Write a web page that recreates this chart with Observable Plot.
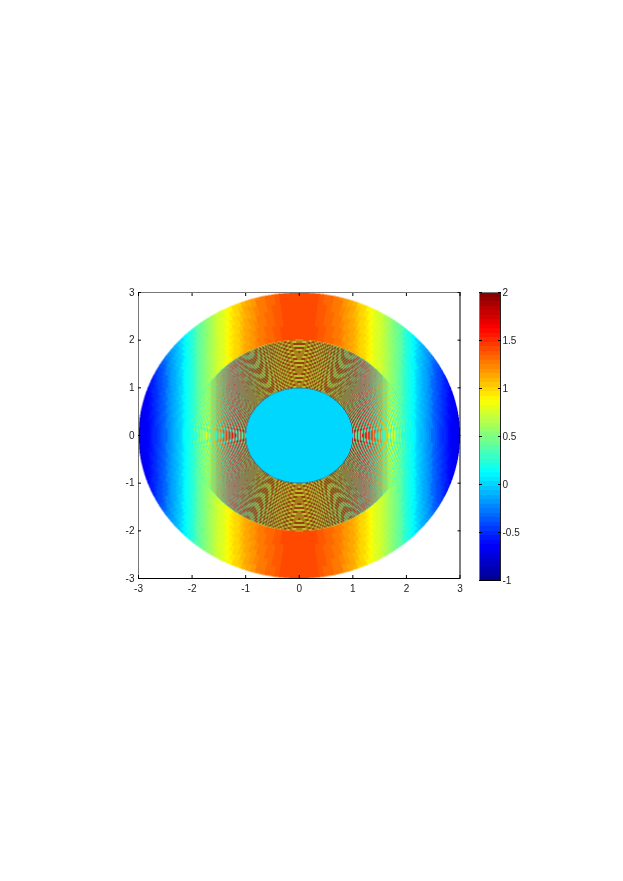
<!DOCTYPE html>
<html><head><meta charset="utf-8">
<script src="https://cdn.jsdelivr.net/npm/d3@7"></script>
<script src="https://cdn.jsdelivr.net/npm/@observablehq/plot@0.6"></script>
<style>
html,body{margin:0;padding:0;background:#fff}
#wrap{position:relative;width:623px;height:881px;overflow:hidden}
#wrap svg{position:absolute;left:0;top:0;filter:blur(.4px);background:transparent}
</style></head><body><div id="wrap"></div>
<script>
const axisTicks = [-3,-2,-1,0,1,2,3];
const barTicks = [-1,-0.5,0,0.5,1,1.5,2];
const outerByX = [1.42,1.42,1.42,1.41,1.41,1.40,1.40,1.38,1.37,1.36,1.34,1.33,1.31,1.29,1.27,1.25,1.22,1.20,1.17,1.14,1.11,1.08,1.04,1.01,.97,.93,.89,.85,.81,.78,.74,.70,.66,.62,.57,.52,.47,.42,.36,.31,.25,.20,.14,.09,.03,-.02,-.08,-.14,-.2,-.25,-.31,-.36,-.42,-.47,-.52,-.56,-.6,-.64,-.67,-.70,-.72];
// stripe strength in the middle ring, by |x| in steps of 0.1
const stripeByX = [.72,.72,.72,.72,.72,.72,.72,.72,.72,.72,.72,.72,.7,.66,.6,.52,.44,.34,.24,.14,.06];
// alternating radial stripes of the middle ring
const stripeSign = [1,-1,1,-1,1,-1,1,-1,1,-1,1,-1,1,-1,1,-1,1,-1,1,-1,1,-1,1,-1,1,-1,1,-1,1,-1,1,-1,1,-1,1,-1,1,-1,1,-1,1,-1,1,-1,1,-1,1,-1,1,-1,1,-1,1,-1,1,-1,1,-1,1,-1,1,-1,1,-1,1,-1,1,-1,1,-1];
const innerValue = 0.03;
const levels = d3.range(64);
const jetStops = [[0,0,0,143],[.125,0,0,255],[.375,0,255,255],[.625,255,255,0],[.875,255,0,0],[1,128,0,0]];
const jet = levels.map(i=>{
  const t=(i+.5)/64; let k=0; while(k<jetStops.length-2&&t>jetStops[k+1][0])k++;
  const a=jetStops[k],b=jetStops[k+1],u=(t-a[0])/(b[0]-a[0]);
  return `rgb(${[1,2,3].map(c=>Math.round(a[c]+(b[c]-a[c])*u)).join(",")})`;
});
const colorScale = {type:"threshold",domain:levels.slice(1).map(i=>-1+3*i/64),range:jet,unknown:"#fff"};
const nTheta = 200;
function cellValue(x,y){
  const r=Math.hypot(x,y);
  if(r>3) return NaN;
  if(r<1) return innerValue;
  if(r<2){
    const ax=Math.abs(x);
    const base=outerByX[Math.round(ax*20)];
    const s=stripeByX[Math.min(stripeByX.length-1,Math.round(ax*10))];
    return base+s*stripeSign[Math.min(stripeSign.length-1,Math.floor((r-1)*stripeSign.length))];
  }
  const dt=2*Math.PI/nTheta;
  const t=(Math.floor(Math.atan2(y,x)/dt)+.5)*dt;
  const rc=Math.floor(r*25+.5)/25;
  return outerByX[Math.min(60,Math.round(Math.abs(rc*Math.cos(t))*20))];
}
const font="'Liberation Sans',Arial,sans-serif";
const blank=()=>"";
const main = Plot.plot({
  width:623,height:881,marginLeft:138,marginRight:163.5,marginTop:292,marginBottom:303,
  style:{fontFamily:font,fontSize:"10px",background:"transparent"},
  x:{domain:[-3,3]},y:{domain:[-3,3]},color:colorScale,
  marks:[
    Plot.raster({x1:-3,x2:3,y1:-3,y2:3,pixelSize:0.5,fill:cellValue}),
    Plot.ruleX([-3],{stroke:"#777"}),
    Plot.ruleY([3],{stroke:"#777"}),
    Plot.ruleX([3],{stroke:"#000"}),
    Plot.ruleY([-3],{stroke:"#000"}),
    Plot.axisX({anchor:"bottom",ticks:axisTicks,tickSize:-3,tickPadding:9,label:null,tickFormat:d=>String(d),stroke:"#000",fill:"#222"}),
    Plot.axisX({anchor:"top",ticks:axisTicks,tickSize:-3,label:null,tickFormat:blank,stroke:"#000"}),
    Plot.axisY({anchor:"left",ticks:axisTicks,tickSize:-3,tickPadding:7,label:null,tickFormat:d=>String(d),stroke:"#000",fill:"#222"}),
    Plot.axisY({anchor:"right",ticks:axisTicks,tickSize:-3,label:null,tickFormat:blank,stroke:"#000"})
  ]
});
const bar = Plot.plot({
  width:623,height:881,marginLeft:479,marginRight:123,marginTop:292,marginBottom:301,
  style:{fontFamily:font,fontSize:"10px",background:"transparent"},
  x:{domain:[0,1],axis:null},y:{domain:[-1,2]},color:colorScale,
  marks:[
    Plot.rect(levels,{x1:0,x2:1,y1:i=>-1+3*i/64,y2:i=>-1+3*(i+1)/64,fill:i=>-1+3*(i+.5)/64,shapeRendering:"crispEdges"}),
    Plot.ruleX([0],{stroke:"#777"}),
    Plot.ruleY([2],{stroke:"#777"}),
    Plot.ruleX([1],{stroke:"#222"}),
    Plot.ruleY([-1],{stroke:"#000"}),
    Plot.axisY({anchor:"right",ticks:barTicks,tickSize:-3,tickPadding:5,label:null,tickFormat:d=>String(d),stroke:"#000",fill:"#222"}),
    Plot.axisY({anchor:"left",ticks:barTicks,tickSize:-3,label:null,tickFormat:blank,stroke:"#000"})
  ]
});
document.getElementById("wrap").append(main,bar);
</script></body></html>
